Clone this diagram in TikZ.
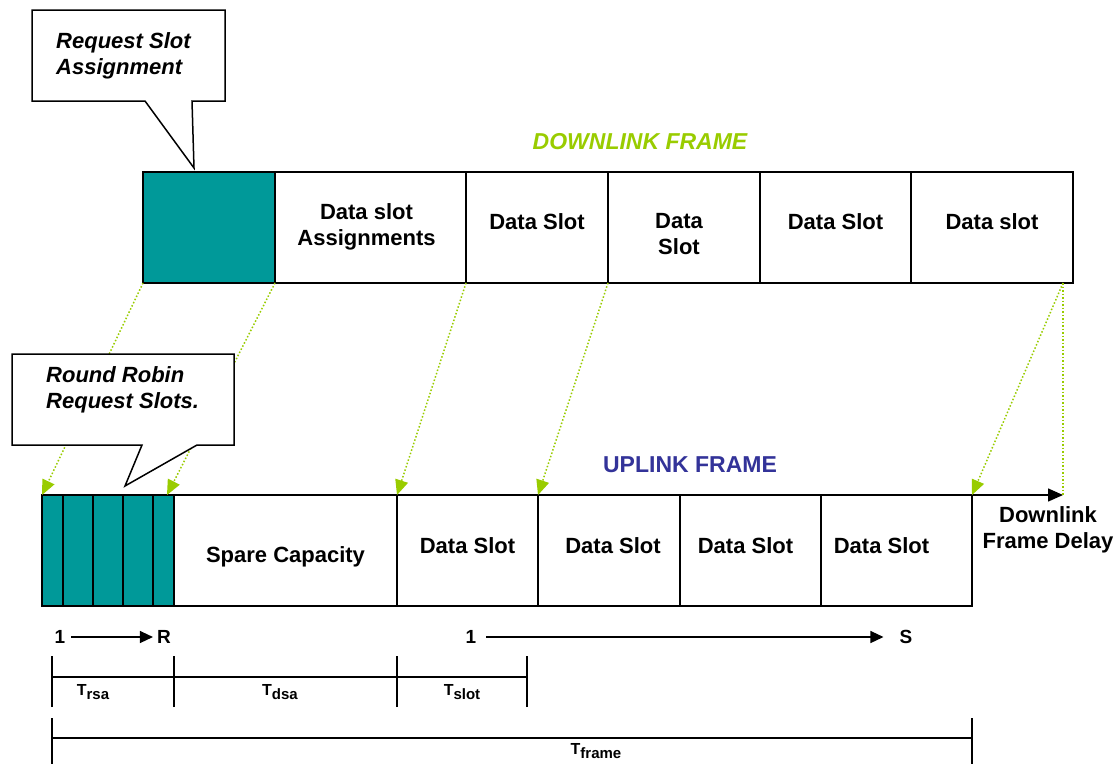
\documentclass[tikz,border=0pt]{standalone}
\usepackage{fontspec}
\setmainfont{Liberation Sans}
\usetikzlibrary{arrows.meta,calc}
\definecolor{tealc}{HTML}{009999}
\definecolor{gline}{HTML}{99CC00}
\definecolor{upc}{HTML}{333399}
\newcommand\biglbl{\bfseries\fontsize{22}{26}\selectfont}
\newcommand\ttllbl{\bfseries\fontsize{23}{27}\selectfont}
\newcommand\smlbl{\bfseries\fontsize{19}{22}\selectfont}
\newcommand\tlbl[1]{\bfseries\fontsize{16}{18}\selectfont T\raisebox{-3.5pt}{\fontsize{15}{17}\selectfont #1}}
\begin{document}
\begin{tikzpicture}[x=1pt,y=-1pt,
 cell/.style={draw, line width=1.5pt, inner sep=0pt, outer sep=0pt, minimum height=111pt, anchor=north west},
 tcell/.style={cell, fill=tealc},
 glink/.style={draw=gline, line width=1.5pt, dash pattern=on 1.5pt off 2pt, -{Triangle[length=15pt,width=13pt,fill=gline]}},
 gplain/.style={draw=gline, line width=1.5pt, dash pattern=on 1.5pt off 2pt},
 callout/.style={draw, line width=1.5pt, fill=white, line join=miter},
 ctext/.style={align=left, font=\biglbl\itshape, anchor=west, inner sep=0pt},
 txt/.style={font=\biglbl, align=center, inner sep=0pt},
 num/.style={font=\smlbl, inner sep=0pt},
 barr/.style={line width=1.3pt, -{Triangle[length=13pt,width=12pt]}},
 darr/.style={line width=1.5pt, -{Triangle[length=15pt,width=13pt]}},
 dim/.style={line width=1.3pt}]
\fill[white] (0,0) rectangle (1118,763);
\useasboundingbox (0,0) rectangle (1118,763);

% downlink frame
\node[tcell, minimum width=132pt] (d0) at (143,172) {};
\node[cell, minimum width=191pt] (d1) at (275,172) {};
\node[cell, minimum width=142pt] (d2) at (466,172) {};
\node[cell, minimum width=152pt] (d3) at (608,172) {};
\node[cell, minimum width=151pt] (d4) at (760,172) {};
\node[cell, minimum width=162pt] (d5) at (911,172) {};
\node[txt] (d1t) at ([xshift=-4pt,yshift=1pt]d1.center) {Data slot\\Assignments};
\node[txt] (d2t) at ([yshift=6pt]d2.center) {Data Slot};
\node[txt] (d3t) at ([xshift=-5pt,yshift=-7pt]d3.center) {Data\\Slot};
\node[txt] (d4t) at ([yshift=6pt]d4.center) {Data Slot};
\node[txt] (d5t) at ([yshift=6pt]d5.center) {Data slot};
\node[font=\ttllbl\itshape, text=gline, inner sep=0pt] (dltitle) at (640,142) {DOWNLINK FRAME};

% uplink frame
\node[tcell, minimum width=21pt] (u0) at (42,495) {};
\node[tcell, minimum width=30pt] (u1) at (63,495) {};
\node[tcell, minimum width=30pt] (u2) at (93,495) {};
\node[tcell, minimum width=30pt] (u3) at (123,495) {};
\node[tcell, minimum width=21pt] (u4) at (153,495) {};
\node[cell, minimum width=223pt] (u5) at (174,495) {};
\node[cell, minimum width=141pt] (u6) at (397,495) {};
\node[cell, minimum width=142pt] (u7) at (538,495) {};
\node[cell, minimum width=141pt] (u8) at (680,495) {};
\node[cell, minimum width=151pt] (u9) at (821,495) {};
\node[txt] (u5t) at ([yshift=-6pt]u5.center) {Spare Capacity};
\node[txt] (u6t) at ([yshift=5pt]u6.center) {Data Slot};
\node[txt] (u7t) at ([xshift=4pt,yshift=5pt]u7.center) {Data Slot};
\node[txt] (u8t) at ([xshift=-5pt,yshift=5pt]u8.center) {Data Slot};
\node[txt] (u9t) at ([xshift=-15pt,yshift=5pt]u9.center) {Data Slot};
\node[font=\ttllbl, text=upc, inner sep=0pt] (ultitle) at (690,465) {UPLINK FRAME};

% downlink frame delay
\coordinate (dsrc) at (1063,283);
\coordinate (dend) at (1063,495);
\coordinate (t2) at (167,495);
\draw[darr] (u9.north east) -- (dend);
\node[txt] (delay) at (1048,530) {Downlink\\Frame Delay};

% green mapping lines
\draw[glink] (d0.south west) -- (u0.north west);
\draw[glink] (d0.south east) -- (t2);
\draw[glink] (d1.south east) -- (u6.north west);
\draw[glink] (d2.south east) -- (u7.north west);
\draw[glink] (dsrc) -- (u9.north east);
\draw[gplain] (dsrc) -- (dend);

% callouts
\draw[callout] (32,10) -- (225,10) -- (225,101) -- (192,101) -- (194,168) -- (145,101) -- (32,101) -- cycle;
\node[ctext] (c1) at (56,56) {Request Slot\\Assignment};
\draw[callout] (12,354) -- (234,354) -- (234,445) -- (197,445) -- (125,486) -- (142,445) -- (12,445) -- cycle;
\node[ctext] (c2) at (46,390) {Round Robin\\Request Slots.};

% numbering
\node[num] (one1) at (60,637) {1};
\node[num] (rr) at (164,637) {R};
\draw[barr] ([xshift=6pt]one1.east) -- ([xshift=-4pt]rr.west);
\node[num] (one2) at (471,637) {1};
\node[num] (ss) at (906,637) {S};
\draw[barr] ([xshift=10pt]one2.east) -- ([xshift=-16pt]ss.west);

% timing brackets
\coordinate (a0) at (52,677);
\coordinate (a1) at (174,677);
\coordinate (a2) at (397,677);
\coordinate (a3) at (527,677);
\foreach \p in {a0,a1,a2,a3} \draw[dim] ([yshift=-30pt]\p) -- ([yshift=21pt]\p);
\draw[dim] (a0) -- (a3);
\node[inner sep=0pt] (trsa) at (93,692) {\tlbl{rsa}};
\node[inner sep=0pt] (tdsa) at (280,692) {\tlbl{dsa}};
\node[inner sep=0pt] (tslot) at (462,692) {\tlbl{slot}};
\coordinate (f0) at (52,738);
\coordinate (f1) at (972,738);
\foreach \p in {f0,f1} \draw[dim] ([yshift=-31pt]\p) -- ([yshift=20pt]\p);
\draw[dim] (f0) -- (f1);
\node[inner sep=0pt] (tframe) at (596,751) {\tlbl{frame}};
\end{tikzpicture}
\end{document}
